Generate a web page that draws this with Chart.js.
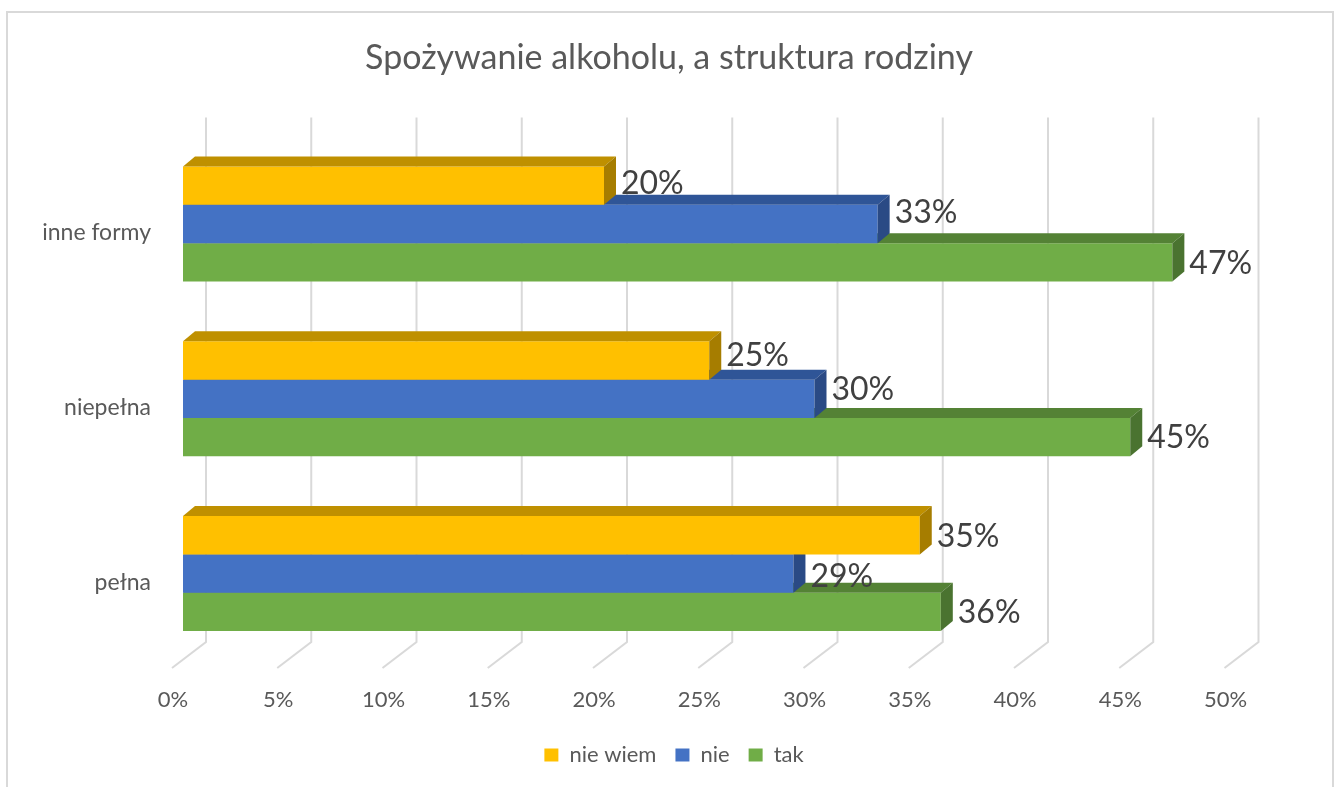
<!DOCTYPE html>
<html>
<head>
<meta charset="utf-8">
<script src="https://cdn.jsdelivr.net/npm/chart.js@4"></script>
<style>
  html, body { margin: 0; padding: 0; background: #fff; }
  #wrap { width: 1338px; height: 787px; }
</style>
</head>
<body>
<div id="wrap"><canvas id="chart" width="1338" height="787"></canvas></div>
<script>
const categories = ['inne formy', 'niepełna', 'pełna'];
const seriesNames = ['nie wiem', 'nie', 'tak'];
const nieWiem = [20, 25, 35];
const nie = [33, 30, 29];
const tak = [47, 45, 36];

const FONT = 'Lato, "Open Sans", sans-serif';
const GRAY = '#595959';

// front / top / side colours per series
const faces = [
  { front: '#FFC000', top: '#BF9000', side: '#A67D00' },
  { front: '#4472C4', top: '#2F5597', side: '#2A4A85' },
  { front: '#70AD47', top: '#548235', side: '#4A7330' }
];

const DX = 12, DY = 10; // bar depth

// a few labels sit a bit higher in the original
const nudge = [[-3, -6, 0], [-12, -10, 2], [0, 0, 0]];

const frame = {
  id: 'frame',
  beforeDraw(chart) {
    const c = chart.ctx;
    c.save();
    c.fillStyle = '#fff';
    c.fillRect(0, 0, chart.width, chart.height);
    c.strokeStyle = '#d9d9d9';
    c.lineWidth = 2;
    c.strokeRect(7, 12, 1326, 800);
    c.restore();
  },
  afterLayout(chart) {
    // title and legend centred on the whole canvas, not the plot
    const t = chart.titleBlock;
    t.left = 0; t.right = chart.width; t.width = chart.width;
    const l = chart.legend;
    l.left = 10; l.right = chart.width; l.width = chart.width - 10;
  }
};

// back wall gridlines + floor diagonals
const wall = {
  id: 'wall',
  beforeDatasetsDraw(chart) {
    const c = chart.ctx, x = chart.scales.x, a = chart.chartArea;
    c.save();
    c.strokeStyle = '#d9d9d9';
    c.lineWidth = 2;
    x.ticks.forEach(t => {
      const px = x.getPixelForValue(t.value);
      c.beginPath();
      c.moveTo(px + 23, a.top - 19);
      c.lineTo(px + 23, a.bottom - 19);
      c.lineTo(px - 11, a.bottom + 7);
      c.stroke();
    });
    c.restore();
  }
};

const depth = {
  id: 'depth',
  afterDatasetDraw(chart, args) {
    const c = chart.ctx;
    const f = faces[args.index];
    args.meta.data.forEach(bar => {
      const l = bar.base, r = bar.x, t = bar.y - bar.height / 2, b = bar.y + bar.height / 2;
      c.save();
      c.fillStyle = f.top;
      c.beginPath();
      c.moveTo(l, t); c.lineTo(l + DX, t - DY); c.lineTo(r + DX, t - DY); c.lineTo(r, t);
      c.closePath(); c.fill();
      c.fillStyle = f.side;
      c.beginPath();
      c.moveTo(r, t); c.lineTo(r + DX, t - DY); c.lineTo(r + DX, b - DY); c.lineTo(r, b);
      c.closePath(); c.fill();
      c.restore();
    });
  },
  afterDatasetsDraw(chart) {
    const c = chart.ctx;
    c.save();
    c.fillStyle = '#404040';
    c.font = '32px ' + FONT;
    c.textBaseline = 'middle';
    c.textAlign = 'left';
    chart.data.datasets.forEach((ds, i) => {
      chart.getDatasetMeta(i).data.forEach((bar, j) => {
        c.fillText(ds.data[j] + '%', bar.x + 17, bar.y + 1 + nudge[i][j]);
      });
    });
    c.restore();
  }
};

new Chart(document.getElementById('chart'), {
  type: 'bar',
  data: {
    labels: categories,
    datasets: [
      { label: seriesNames[0], data: nieWiem, backgroundColor: faces[0].front },
      { label: seriesNames[1], data: nie, backgroundColor: faces[1].front },
      { label: seriesNames[2], data: tak, backgroundColor: faces[2].front }
    ]
  },
  options: {
    indexAxis: 'y',
    responsive: false,
    animation: false,
    layout: { padding: { left: 20, right: 102.5, top: 0, bottom: 11 } },
    datasets: { bar: { categoryPercentage: 0.658, barPercentage: 1 } },
    scales: {
      x: {
        min: 0, max: 50,
        grid: { display: false, drawTicks: false },
        border: { display: false },
        ticks: {
          stepSize: 5,
          padding: 26,
          labelOffset: -10,
          color: GRAY,
          font: { family: FONT, size: 22 },
          callback: v => v + '%'
        },
        afterFit: s => { s.height = 64; }
      },
      y: {
        grid: { display: false, drawTicks: false },
        border: { display: false },
        ticks: {
          padding: 32,
          labelOffset: 9,
          color: GRAY,
          font: { family: FONT, size: 23 }
        },
        afterFit: s => { s.width = 163; }
      }
    },
    plugins: {
      title: {
        display: true,
        text: 'Spożywanie alkoholu, a struktura rodziny',
        color: GRAY,
        font: { family: FONT, size: 34, weight: 'normal' },
        padding: { top: 37.6, bottom: 58.2 }
      },
      legend: {
        position: 'bottom',
        labels: {
          color: GRAY,
          font: { family: FONT, size: 22 },
          boxWidth: 14,
          boxHeight: 13,
          padding: 19
        }
      },
      tooltip: { enabled: false }
    }
  },
  plugins: [frame, wall, depth]
});
</script>
</body>
</html>
